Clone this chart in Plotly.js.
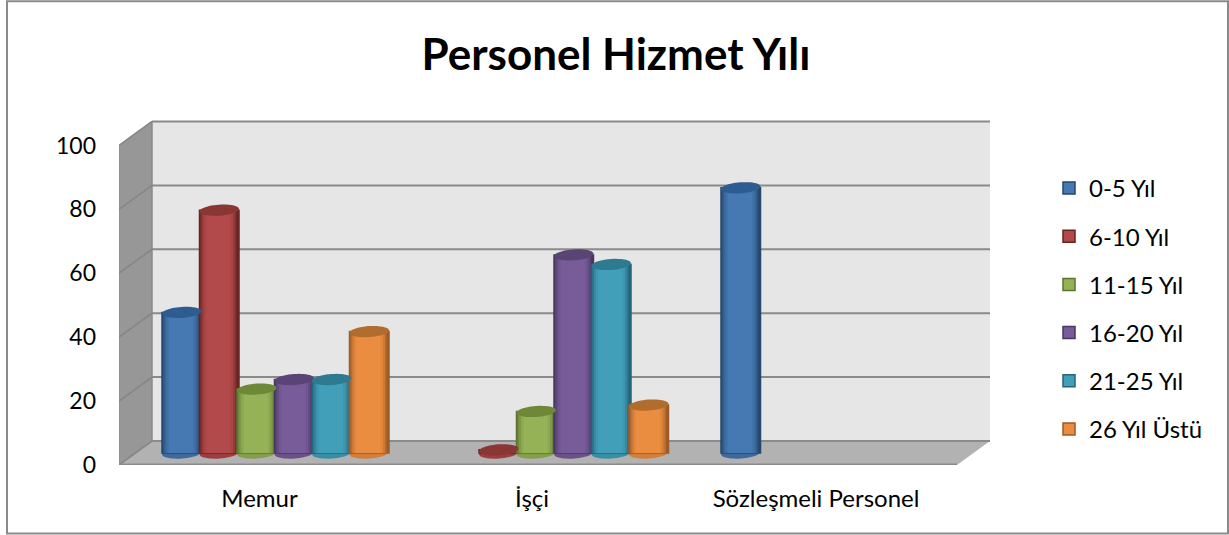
<!DOCTYPE html>
<html><head><meta charset="utf-8">
<script src="https://cdn.plot.ly/plotly-3.0.1.min.js"></script>
<style>html,body{margin:0;padding:0;background:#fff}#c{width:1229px;height:535px}</style></head>
<body><div id="c"></div>
<script>
const categories = ["Memur", "İşçi", "Sözleşmeli Personel"];
const seriesNames = ["0-5 Yıl", "6-10 Yıl", "11-15 Yıl", "16-20 Yıl", "21-25 Yıl", "26 Yıl Üstü"];
const v0to5   = [44, null, 83];
const v6to10  = [76, 1, null];
const v11to15 = [20, 13, null];
const v16to20 = [23, 62, null];
const v21to25 = [23, 59, null];
const v26plus = [38, 15, null];
const seriesValues = [v0to5, v6to10, v11to15, v16to20, v21to25, v26plus];
const yTicks = [0, 20, 40, 60, 80, 100];
const midColors  = ["#4678b2", "#b2494a", "#95b256", "#785c99", "#429fba", "#eb8d40"];
const edgeColors = ["#25486f", "#692525", "#5b7430", "#483762", "#25657a", "#9c5b27"];
const capColors  = ["#2f5c90", "#8a3635", "#6d8837", "#5a4375", "#2e7a91", "#b06d2d"];

/* geometry helpers */
const W = 1229, H = 535, L = 119, R = 990, B = 465.5, T = 100;
const groupPx = 275.5, groupStep = 279.5, barStep = 37.5, barW = 39.5;
const yScale = 3.2, depthX = 33, depthY = 24, baseLift = 12;
const X = p => (p - groupPx) / groupStep;
const Y = p => (B - p) / yScale;
const baseVal = baseLift / yScale;
const xRange = [X(L), X(R)], yRange = [0, Y(T)];

function hex(c){return [1,3,5].map(i=>parseInt(c.substr(i,2),16));}
function mix(a,b,t){const A=hex(a),B2=hex(b);return "rgb("+A.map((v,i)=>Math.round(v+(B2[i]-v)*t)).join(",")+")";}
function poly(pts,o){return Object.assign({type:"path",xref:"x",yref:"y",
  path:"M"+pts.map(p=>X(p[0])+","+Y(p[1])).join("L")+"Z"},o);}
function ellipse(cx,cy,a,b,tilt){const pts=[];for(let k=0;k<48;k++){const t=k/48*2*Math.PI,
  u=a*Math.cos(t),w=b*Math.sin(t);pts.push([cx+u*Math.cos(tilt)-w*Math.sin(tilt),cy+u*Math.sin(tilt)+w*Math.cos(tilt)]);}return pts;}

const shapes = [];
const grey = "#8a8a8a";
// outer frame (paper coordinates so it is not clipped to the plot area)
shapes.push({type:"rect",xref:"paper",yref:"paper",x0:(7-L)/(R-L),x1:(1228-L)/(R-L),y0:(B-534)/(B-T),y1:(B-1)/(B-T),
  line:{color:grey,width:2},fillcolor:"rgba(0,0,0,0)",layer:"below"});
const py = v => B - v*yScale;
// walls and floor
shapes.push(poly([[L,py(100)],[L+depthX,py(100)-depthY],[L+depthX,B-depthY],[L,B]],{fillcolor:"#979797",line:{color:grey,width:1},layer:"below"}));
shapes.push(poly([[L+depthX,py(100)-depthY],[R,py(100)-depthY],[R,B-depthY],[L+depthX,B-depthY]],{fillcolor:"#e6e6e6",line:{width:0},layer:"below"}));
shapes.push(poly([[L,B],[L+depthX,B-depthY],[R,B-depthY],[R-depthX,B]],{fillcolor:"#b2b2b2",line:{width:0},layer:"below"}));
yTicks.forEach(v=>{
  const y=py(v), line={color:grey,width:2};
  shapes.push({type:"line",xref:"x",yref:"y",x0:X(L+depthX),x1:X(R),y0:Y(y-depthY),y1:Y(y-depthY),line,layer:"below"});
  shapes.push({type:"line",xref:"x",yref:"y",x0:X(L),x1:X(L+depthX),y0:v,y1:Y(y-depthY),line:{color:"#858585",width:1.5},layer:"below"});
});
shapes.push({type:"line",xref:"x",yref:"y",x0:X(L),x1:X(R-depthX),y0:0,y1:0,line:{color:grey,width:3},layer:"below"});
shapes.push({type:"line",xref:"x",yref:"y",x0:X(L+depthX),x1:X(L+depthX),y0:Y(py(100)-depthY),y1:Y(B-depthY),line:{color:grey,width:1.5},layer:"below"});

/* cylinders built from nested strips plus end caps */
const stripW = [1, 1, 0.92, 0.84, 0.74, 0.62];
const stripT = [1, 0, 0.3, 0.6, 0.85, 1];
const traces = [];
seriesNames.forEach((name,s)=>{
  const vals = seriesValues[s];
  const cx = vals.map((v,i)=>i + (s-2.5)*barStep/groupStep);
  stripW.forEach((w,k)=>{
    const shift = k<2?0:-0.02*(barW/groupStep);
    traces.push({type:"bar",name:name,legendgroup:name,showlegend:k===0,hoverinfo:k===0?"name+y":"skip",
      x:cx.map(c=>c+shift),y:vals,base:vals.map(()=>baseVal),
      width:vals.map(()=>w*barW/groupStep),
      marker:{color:mix(edgeColors[s],midColors[s],stripT[k]),
              line:k===0?{color:edgeColors[s],width:1.5}:{width:0}}});
  });
  vals.forEach((v,i)=>{
    if(v===null) return;
    const pxc = groupPx + (i + (s-2.5)*barStep/groupStep)*groupStep;
    shapes.push(poly(ellipse(pxc,B-baseLift,barW/2,5.5,-0.07),{fillcolor:mix(edgeColors[s],midColors[s],0.7),line:{width:0},layer:"between"}));
    shapes.push(poly(ellipse(pxc,py(v)-baseLift,barW/2,5.5,-0.07),{fillcolor:capColors[s],line:{width:0},layer:"above"}));
  });
});

const font = "Lato, 'Open Sans', sans-serif";
const labelPos = [X(259.5), X(532), X(816)];
const layout = {
  width:W,height:H,paper_bgcolor:"#fff",plot_bgcolor:"rgba(0,0,0,0)",
  margin:{l:L,r:W-R,t:T,b:H-B,pad:0},
  barmode:"overlay",
  title:{text:"Personel Hizmet Yılı",font:{family:font,size:44,weight:700,color:"#000"},
    x:616/W,xanchor:"center",xref:"container",y:1-55/H,yanchor:"middle"},
  xaxis:{range:xRange,tickmode:"array",tickvals:labelPos,ticktext:categories,showgrid:false,zeroline:false,
    showline:false,ticks:"",ticklabelstandoff:17,tickfont:{family:font,size:24,color:"#000"}},
  yaxis:{range:yRange,tickmode:"array",tickvals:yTicks,showgrid:false,zeroline:false,showline:false,
    ticks:"",ticklabelstandoff:22,tickfont:{family:font,size:23,color:"#000"}},
  legend:{x:(1049-L)/(R-L),xanchor:"left",y:(B-166)/(B-T),yanchor:"top",traceorder:"grouped",
    tracegroupgap:14,font:{family:font,size:24,color:"#000"},bgcolor:"rgba(0,0,0,0)",itemclick:false,itemdoubleclick:false},
  shapes:shapes
};
Plotly.newPlot("c",traces,layout,{displayModeBar:false,staticPlot:true});
</script></body></html>
